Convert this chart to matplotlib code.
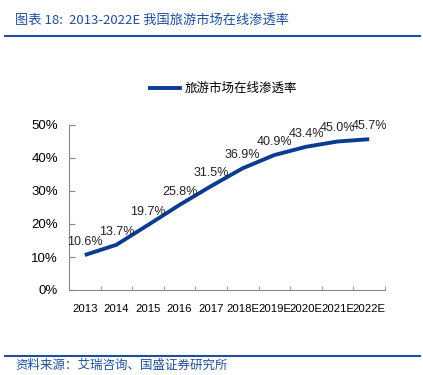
import matplotlib
matplotlib.use("Agg")
import matplotlib.pyplot as plt
from matplotlib.lines import Line2D

plt.rcParams["font.family"] = ["Liberation Sans", "Noto Sans CJK SC"]

years = ["2013", "2014", "2015", "2016", "2017", "2018E", "2019E", "2020E", "2021E", "2022E"]
rates = [10.6, 13.7, 19.7, 25.8, 31.5, 36.9, 40.9, 43.4, 45.0, 45.7]
yticks = [0, 10, 20, 30, 40, 50]

blue = "#0B3C92"
title_blue = "#1F4E9A"
cjk = ["Noto Sans CJK SC", "DejaVu Sans"]

fig = plt.figure(figsize=(4.23, 3.75), dpi=100)
ax = fig.add_axes([69 / 423, 1 - 290 / 375, 316 / 423, 165 / 375])

x = list(range(len(years)))
ax.plot(x, rates, color=blue, linewidth=2.8, solid_capstyle="butt")
for xi, v in zip(x, rates):
    ax.text(xi, v + 2.2, f"{v:.1f}%", ha="center", va="bottom", fontsize=9, color="#222222")

ax.set_xlim(-0.5, len(years) - 0.5)
ax.set_ylim(0, 50)
ax.set_yticks(yticks)
ax.set_yticklabels([f"{t}%" for t in yticks], fontsize=9.5)
ax.set_xticks(x)
ax.set_xticklabels(years, fontsize=8.2)
ax.set_xticks([i - 0.5 for i in range(len(years) + 1)], minor=True)
ax.tick_params(axis="x", which="major", length=0, pad=10)
ax.tick_params(axis="x", which="minor", length=3, color="#888888", direction="in")
ax.tick_params(axis="y", length=4, color="#888888", direction="in", pad=8)
for s in ["top", "right"]:
    ax.spines[s].set_visible(False)
for s in ["left", "bottom"]:
    ax.spines[s].set_color("#888888")
    ax.spines[s].set_linewidth(0.8)

leg = ax.legend([Line2D([0], [0], color=blue, linewidth=2.8)], ["旅游市场在线渗透率"],
                loc="center", bbox_to_anchor=(0.49, 1.22), frameon=False,
                prop={"family": cjk, "size": 9}, handlelength=2.4, handletextpad=0.4)

fig.text(15 / 423, 1 - 20 / 375, "图表 18:  2013-2022E 我国旅游市场在线渗透率", color=title_blue,
         fontsize=9.5, style="italic", family=cjk, va="center")
fig.add_artist(Line2D([5 / 423, 420 / 423], [1 - 36 / 375, 1 - 36 / 375], color=title_blue, linewidth=1.5))
fig.add_artist(Line2D([5 / 423, 420 / 423], [1 - 356 / 375, 1 - 356 / 375], color=title_blue, linewidth=1.5))
fig.text(15 / 423, 1 - 365 / 375, "资料来源：艾瑞咨询、国盛证券研究所", color=title_blue,
         fontsize=9, style="italic", family=cjk, va="center")

fig.savefig("out.png", dpi=100)
